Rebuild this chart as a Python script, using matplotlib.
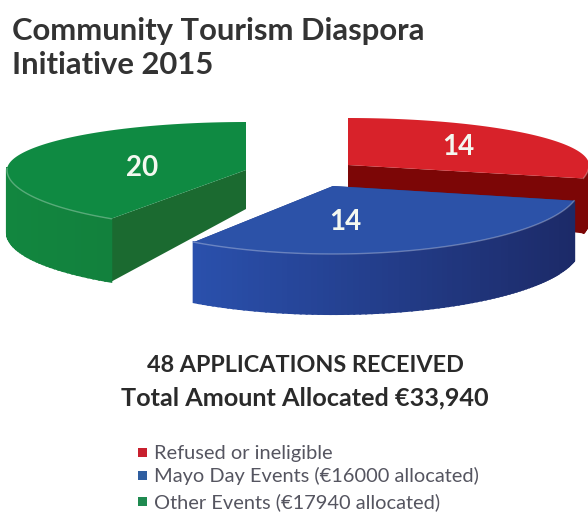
#Community Tourism Diaspora Initiative 2015 - exploded 3d style pie
import numpy as np
import matplotlib
matplotlib.use('Agg')
import matplotlib.pyplot as plt
from matplotlib.patches import Polygon, Rectangle
from matplotlib.colors import to_rgb

plt.rcParams['font.family']=['Lato','DejaVu Sans']

# >>>data
counts=[14,14,20]
names=['Refused or ineligible','Mayo Day Events (€16000 allocated)','Other Events (€17940 allocated)']
title='Community Tourism Diaspora\nInitiative 2015'
headline='48 APPLICATIONS RECEIVED'
subline='Total Amount Allocated €33,940'

# >>>colours: top, cut face, side left, side right
topColors=['#d8222a','#2c52a8','#0f8a42']
cutColors=['#7c0606','#1f3a86','#1b6a30']
sideLeft=['#7c0606','#2a50ac','#12863f']
sideRight=['#7c0606','#1c2a68','#127a3a']
legendColors=['#c8202e','#2f5ea0','#1f8a50']

# >>>slice geometry in pixels: centre x,y, rx, ry back, ry front, depth at apex, depth at rim
shape=[(348,165,241,47,62,40,55),
       (333,186,247,47,68,45,60),
       (246,170,239,48,59,39,63)]
startAngle=90
warp=-5

fig=plt.figure(figsize=(5.88,5.12),dpi=100)
ax=fig.add_axes([0,0,1,1])
ax.set_xlim(0,588)
ax.set_ylim(512,0)
ax.axis('off')

def rim(s,a):
    #point on the top ellipse, front half is drawn deeper for the perspective
    cx,cy,rx,ryB,ryF,dA,dR=s
    a=np.radians(a+warp*np.sin(np.radians(2*np.asarray(a,dtype=float))))
    return cx+rx*np.cos(a),cy-np.where(np.sin(a)>0,ryB,ryF)*np.sin(a)

def drawSlice(i,a0,a1):
    s=shape[i]
    cx,cy,rx,ryB,ryF,dA,dR=s
    angles=np.linspace(a0,a1,90)
    x,y=rim(s,angles)
    #cut faces first
    for a in (a0,a1):
        px,py=rim(s,a)
        if py>cy-5:
            ax.add_patch(Polygon([(cx,cy),(px,py),(px,py+dR),(cx,cy+dA)],fc=cutColors[i],ec='none',zorder=i+1))
    #outer side as thin strips so it can fade left to right
    c0,c1=np.array(to_rgb(sideLeft[i])),np.array(to_rgb(sideRight[i]))
    for k in range(len(x)-1):
        if y[k]<cy-2 and y[k+1]<cy-2:
            continue
        t=(min(x[k],x[k+1])-x.min())/(x.max()-x.min())
        ax.add_patch(Polygon([(x[k],y[k]),(x[k+1],y[k+1]),(x[k+1],y[k+1]+dR),(x[k],y[k]+dR)],
                             fc=c0+(c1-c0)*t,ec=c0+(c1-c0)*t,lw=1.5,zorder=i+1))
    ax.add_patch(Polygon(np.vstack([[cx,cy],np.column_stack([x,y])]),fc=topColors[i],ec='none',zorder=i+1.5))
    #light edge on the front of the top face
    front=y>cy-2
    ax.plot(x[front],y[front],color='#ffffff',alpha=.3,lw=1,zorder=i+1.6)

# >>>slices go clockwise from the top, red, blue, green
angle=startAngle
spans=[]
for c in counts:
    spans.append((angle-c/sum(counts)*360,angle))
    angle=spans[-1][0]
for i in (2,0,1):
    drawSlice(i,spans[i][0],spans[i][1])

# >>>count labels on the top faces
labelXY=[(458,147),(345,222),(142,168)]
for c,(lx,ly) in zip(counts,labelXY):
    ax.text(lx,ly,str(c),color='#f4f8f0',fontsize=20,fontweight='bold',ha='center',va='center',zorder=10)

ax.text(12,48,title,color='#333333',fontsize=22.3,fontweight='bold',ha='left',va='center',linespacing=1.3)
ax.text(305,365,headline,color='#2a2a2a',fontsize=16.8,fontweight='bold',ha='center',va='center')
ax.text(305,398,subline,color='#2a2a2a',fontsize=18.2,fontweight='bold',ha='center',va='center')

# >>>hand made legend
legendY=[453,476,502]
for n,col,ly in zip(names,legendColors,legendY):
    ax.add_patch(Rectangle((138,ly-5),9,9,fc=col,ec='none'))
    ax.text(154,ly,n,color='#555560',fontsize=14.4,ha='left',va='center')

plt.savefig('out.png',dpi=100)
plt.close()
